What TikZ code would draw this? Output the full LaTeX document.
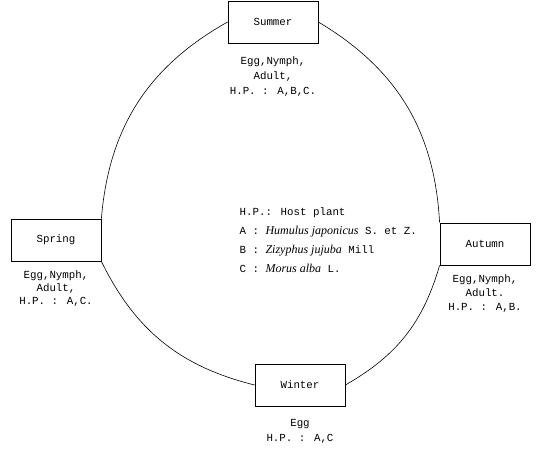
\documentclass[tikz,border=0pt]{standalone}
\usepackage{fontspec}
\setmainfont{Liberation Mono}
\newfontfamily\latinname{Liberation Serif}
\usetikzlibrary{positioning}

\begin{document}
\begin{tikzpicture}[x=1pt, y=1pt, every path/.style={line width=0.6pt},
	every node/.style={font=\fontsize{10.8}{15}\selectfont},
	season/.style={draw, fill=white, line width=0.8pt, minimum width=90pt, minimum height=42pt},
	stage/.style={align=center, inner sep=1pt}]
	\useasboundingbox (0,0) rectangle (536,450);
	\node[season] (summer) at (273,428) {Summer};
	\node[season] (spring) at (56,210) {Spring};
	\node[season] (autumn) at (485,206) {Autumn};
	\node[season] (winter) at (300,65) {Winter};
	
	\node[stage, below=12pt of summer] (summerhp) {Egg,Nymph,\\Adult,\\H.P. : A,B,C.};
	\node[stage, below=8pt of spring, font=\fontsize{10.8}{13}\selectfont] (springhp) {Egg,Nymph,\\Adult,\\H.P. : A,C.};
	\node[stage, below=8pt of autumn, font=\fontsize{10.8}{14}\selectfont] (autumnhp) {Egg,Nymph,\\Adult.\\H.P. : A,B.};
	\node[stage, below=12pt of winter] (winterhp) {Egg\\H.P. : A,C};
	
	\node[align=left, anchor=north west, font=\fontsize{10.8}{19}\selectfont] (hostplant) at (236,246)
		{H.P.: Host plant\\
		A : {\latinname\itshape\fontsize{12}{19}\selectfont Humulus japonicus} S. et Z.\\
		B : {\latinname\itshape\fontsize{12}{19}\selectfont Zizyphus jujuba} Mill\\
		C : {\latinname\itshape\fontsize{12}{19}\selectfont Morus alba} L.};
	
	\draw (summer.west) to[bend right=28] (spring.north east);
	\draw (summer.east) to[bend left=28] (autumn.north west);
	\draw (spring.south east) to[bend right=25] (winter.west);
	\draw (winter.east) to[bend right=22] (autumn.south west);
\end{tikzpicture}
\end{document}
